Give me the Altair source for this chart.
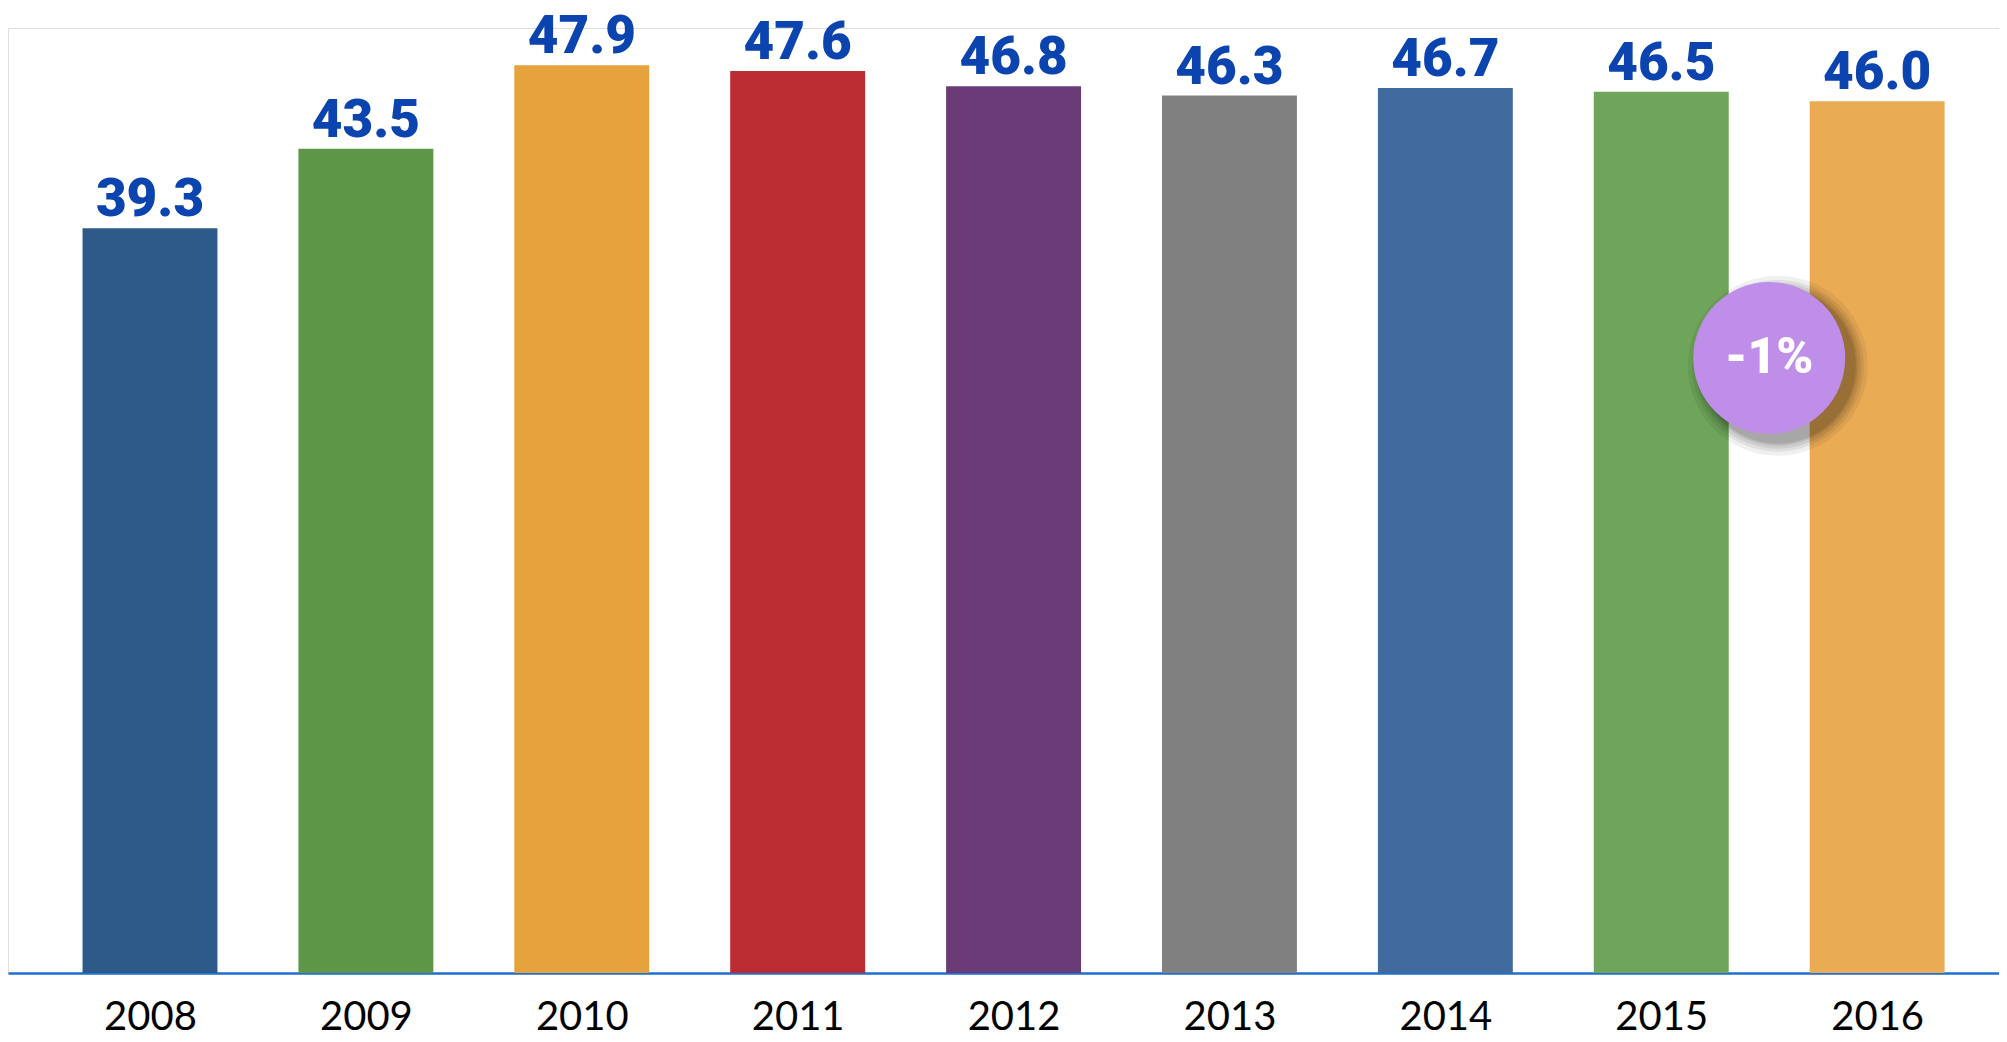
import altair as alt
import pandas as pd

years = [2008, 2009, 2010, 2011, 2012, 2013, 2014, 2015, 2016]
values = [39.3, 43.5, 47.9, 47.6, 46.8, 46.3, 46.7, 46.5, 46.0]
colors = ["#2E5A8A", "#5E9648", "#E6A23C", "#BA2C32", "#6B3B78",
          "#808080", "#416A9E", "#6EA55A", "#E9AC55"]
badge_text = ["-1%"]
badge_x = [2015.5]
badge_y = [32.45]

df = pd.DataFrame({"year": years, "value": values})
badge = pd.DataFrame({"x": badge_x, "y": badge_y, "t": badge_text})

X_DOMAIN = [2007.3423, 2016.5644]
Y_DOMAIN = [0, 49.868]

xscale = alt.Scale(domain=X_DOMAIN, nice=False, zero=False)
yscale = alt.Scale(domain=Y_DOMAIN, nice=False, zero=True)

base = alt.Chart(df)

bars = base.transform_calculate(
    x0="datum.year - 0.3125", x1="datum.year + 0.3125"
).mark_bar().encode(
    x=alt.X("x0:Q", scale=xscale,
            axis=alt.Axis(values=years, format="d", ticks=False, grid=False,
                          domainColor="#1F6FD0", domainWidth=2.5,
                          labelFont="Lato", labelFontSize=40, labelColor="#000000",
                          labelPadding=24, title=None)),
    x2="x1:Q",
    y=alt.Y("value:Q", scale=yscale, axis=None),
    y2=alt.datum(0),
    color=alt.Color("year:N", scale=alt.Scale(domain=years, range=colors), legend=None),
)

labels = base.mark_text(
    baseline="alphabetic", dy=-12, font="Roboto", fontWeight=900, fontSize=53,
    color="#0B44AF"
).encode(
    x=alt.X("year:Q", scale=xscale),
    y=alt.Y("value:Q", scale=yscale),
    text=alt.Text("value:Q", format=".1f"),
)

R = 76
bchart = alt.Chart(badge)
shadow_layers = []
for grow, op in [(14, 0.06), (10, 0.07), (7, 0.08), (4, 0.09), (2, 0.10)]:
    r = R + grow
    shadow_layers.append(
        bchart.transform_calculate(sx="datum.x + 0.04", sy="datum.y - 0.4")
        .mark_circle(color="#000000", opacity=op, size=(2 * r) ** 2)
        .encode(x=alt.X("sx:Q", scale=xscale), y=alt.Y("sy:Q", scale=yscale))
    )

circle = bchart.mark_circle(color="#BF8EE9", opacity=1, size=(2 * R) ** 2).encode(
    x=alt.X("x:Q", scale=xscale), y=alt.Y("y:Q", scale=yscale)
)
ctext = bchart.mark_text(
    font="Roboto", fontWeight=900, fontSize=50, color="#FFFFFF",
    baseline="middle", align="center"
).encode(x=alt.X("x:Q", scale=xscale), y=alt.Y("y:Q", scale=yscale), text="t:N")

chart = alt.layer(bars, labels, *shadow_layers, circle, ctext).properties(
    width=1991, height=945,
    padding={"left": 0, "top": 20, "right": 0, "bottom": 64},
    autosize=alt.AutoSizeParams(type="none"),
).configure_view(stroke=None).configure(background="#FFFFFF")

chart.save("out.html", embed_options={"renderer": "svg", "actions": False})
